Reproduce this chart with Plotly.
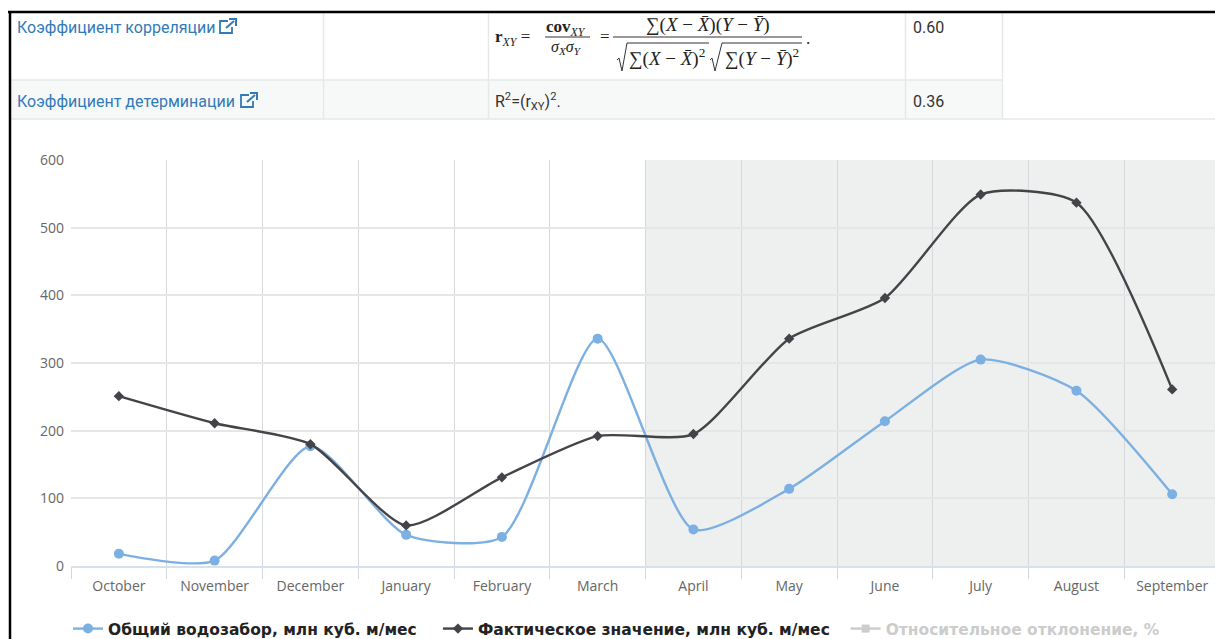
import plotly.graph_objects as go

months = ["October","November","December","January","February","March","April","May","June","July","August","September"]
total_intake = [18,8,177,46,43,336,54,114,214,305,259,106]
actual_value = [251,211,180,60,131,192,195,336,396,549,537,261]
deviation = [None]*12
names = ["Общий водозабор, млн куб. м/мес","Фактическое значение, млн куб. м/мес","Относительное отклонение, %"]
y_ticks = [0,100,200,300,400,500,600]

W,H=1215,639
L,R,T,B=71,0,160,73
NB="\u00a0"
def px(x): return (x-L)/(W-L-R)
def py(y): return 1-(y-T)/(H-T-B)

fig=go.Figure()
fig.add_trace(go.Scatter(x=months,y=total_intake,name=names[0]+NB*3,mode="lines+markers",line=dict(color="#7cb0e2",width=2.4,shape="spline",smoothing=0.65),marker=dict(symbol="circle",size=10,color="#7cb0e2"),cliponaxis=False))
fig.add_trace(go.Scatter(x=months,y=actual_value,name=names[1]+NB*2,mode="lines+markers",line=dict(color="#434348",width=2.4,shape="spline",smoothing=0.65),marker=dict(symbol="diamond",size=8,color="#434348"),cliponaxis=False))
fig.add_trace(go.Scatter(x=months,y=deviation,name='<span style="color:#cccccc">'+names[2]+'</span>',mode="lines+markers",line=dict(color="#cccccc",width=2.4),marker=dict(symbol="square",size=8,color="#cccccc")))

shapes=[]
def rect(x0,y0,x1,y1,fill,layer="below"):
    shapes.append(dict(type="rect",xref="paper",yref="paper",x0=px(x0),x1=px(x1),y0=py(y0),y1=py(y1),fillcolor=fill,line_width=0,layer=layer))
def line(x0,y0,x1,y1,c="#e6e8e8",w=1.5):
    shapes.append(dict(type="line",xref="paper",yref="paper",x0=px(x0),x1=px(x1),y0=py(y0),y1=py(y1),line=dict(color=c,width=w),layer="above"))
def poly(pts,c="#222222",w=1):
    path="M "+" L ".join(f"{px(a):.6f},{py(b):.6f}" for a,b in pts)
    shapes.append(dict(type="path",xref="paper",yref="paper",path=path,line=dict(color=c,width=w),layer="above"))

# forecast band
shapes.append(dict(type="rect",xref="x",yref="paper",x0=5.5,x1=11.6,y0=0,y1=1,fillcolor="#eeefef",line_width=0,layer="below"))
# table
rect(11,80,1002,119,"#f7f9f9")
line(11,80,1002,80)
line(11,119,1215,119)
for x in (323.5,488.5,905.5,1002.5):
    line(x,13,x,119)
line(8,12,1215,12,"#000000",2.5)
line(10,11,10,639,"#000000",2.5)

# external link icons
def icon(x,y):
    c="#337ab7"
    poly([(x+9,y+3),(x+1,y+3),(x+1,y+15),(x+13,y+15),(x+13,y+9)],c,1.8)
    poly([(x+7,y+10),(x+15,y+3)],c,2)
    poly([(x+10,y+1),(x+17,y+1),(x+17,y+8)],c,2)
icon(219,18)
icon(240,92)

ann=[]
def text(x,y,s,size=16,color="#333333",font="Roboto",anchor="left"):
    ann.append(dict(xref="paper",yref="paper",x=px(x),y=py(y),text=s,showarrow=False,xanchor=anchor,yanchor="middle",align=anchor,font=dict(size=size,color=color,family=font)))
text(15,27,"Коэффициент корреляции",color="#337ab7")
text(15,101,"Коэффициент детерминации",color="#337ab7")
text(911,27,"0.60")
text(911,101,"0.36")
text(493,101,"R<sup>2</sup>=(r<sub>XY</sub>)<sup>2</sup>.")
S="Liberation Serif"
INK="#222222"
text(493,38,"<b>r</b><sub><i>XY</i></sub> =",17,INK,S)
text(566,28,"<b>cov</b><sub><i>XY</i></sub>",17,INK,S,"center")
text(566,48,"<i>σ<sub>X</sub>σ<sub>Y</sub></i>",16,INK,S,"center")
text(598,37,"=",17,INK,S)
text(708,25,"∑(<i>X</i> − <i>X̄</i>)(<i>Y</i> − <i>Ȳ</i>)",19,INK,S,"center")
text(667,58,"∑(<i>X</i> − <i>X̄</i>)<sup>2</sup>",19,INK,S,"center")
text(762,58,"∑(<i>Y</i> − <i>Ȳ</i>)<sup>2</sup>",19,INK,S,"center")
text(804,38,".",17,INK,S)
line(545,37,590,37,"#333333",1)
line(613,37,802,37,"#333333",1)
poly([(617,60),(619,58),(622,71),(627,43),(709,43)],"#333333",1)
poly([(710,60),(712,58),(715,71),(722,43),(802,43)],"#333333",1)

fig.update_layout(
    width=W,height=H,autosize=False,margin=dict(l=L,r=R,t=T,b=B,autoexpand=False),
    paper_bgcolor="#ffffff",plot_bgcolor="#ffffff",
    font=dict(family="Open Sans",color="#666666"),
    shapes=shapes,annotations=ann,
    showlegend=True,
    legend=dict(orientation="h",x=px(68),y=py(612),xanchor="left",yanchor="top",bgcolor="rgba(0,0,0,0)",
                font=dict(family="DejaVu Sans",size=15.5,color="#222222",weight="bold"),itemwidth=30,traceorder="normal"),
    xaxis=dict(type="category",categoryorder="array",categoryarray=months,range=[-0.5,11.447],tickson="boundaries",
               ticks="outside",ticklen=11,tickcolor="#cfd8e3",tickwidth=1,showgrid=True,gridcolor="#d5d9de",gridwidth=1,
               showline=True,linecolor="#d8e0ea",linewidth=2,tickfont=dict(size=14,color="#666666",family="Open Sans"),zeroline=False,ticklabelstandoff=6),
    yaxis=dict(range=[0,600],tickvals=y_ticks,showgrid=True,gridcolor="#e6e6e6",gridwidth=1.5,zeroline=False,showline=False,ticks="",
               tickfont=dict(size=14,color="#666666",family="Open Sans"),ticklabelstandoff=6),
)
fig.write_html("out.html",config=dict(displayModeBar=False),post_script="document.body.style.margin='0';document.body.style.overflow='hidden';")
